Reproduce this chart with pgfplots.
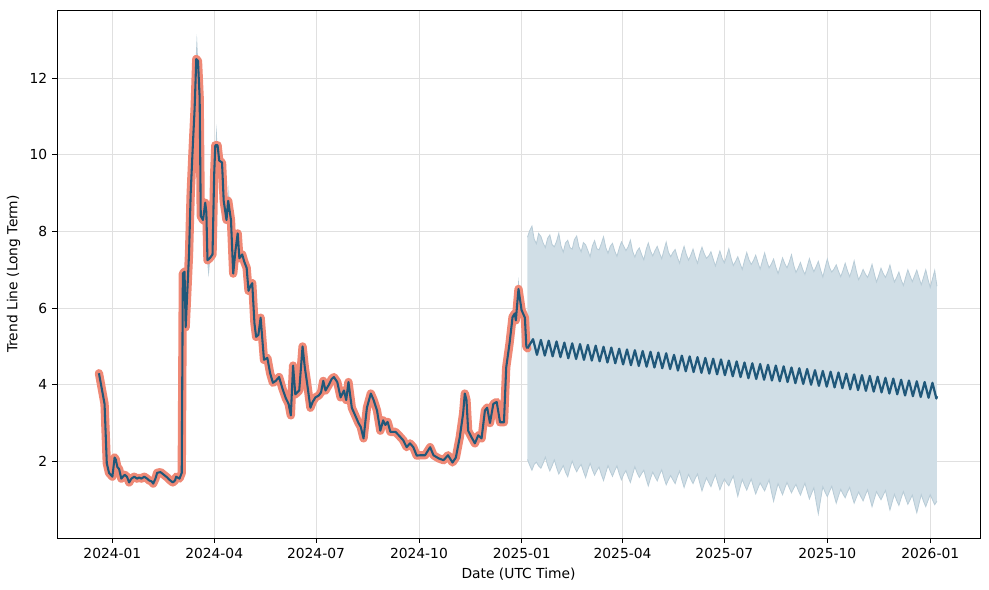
\documentclass[border=0pt]{standalone}
\usepackage{pgfplots}
\pgfplotsset{compat=1.18}
\usepackage{pgfplotstable}
\usepgfplotslibrary{fillbetween}
\usepackage{fontspec}
\setmainfont{DejaVu Sans}

\definecolor{salmon}{RGB}{239,137,118}
\definecolor{trend}{RGB}{32,88,122}
\definecolor{bandfill}{RGB}{208,222,230}
\definecolor{bandedge}{RGB}{184,204,215}

% days since 2024-01-01
\pgfplotstableread{
d v
-12 4.3
-7 3.5
-5 1.95
-3 1.7
0 1.6
2 2.1
3 2.05
4.5 1.85
6 1.8
8 1.55
11 1.65
13 1.6
15 1.45
17 1.55
19.5 1.6
22 1.55
24 1.58
26 1.55
28.5 1.6
31 1.55
33 1.5
35 1.48
36.5 1.42
38.5 1.55
40 1.7
43 1.72
46 1.65
49 1.58
51 1.52
54 1.45
56 1.5
57 1.6
60 1.55
62 1.7
63 6.9
64.5 6.95
65.5 5.5
68.5 7.4
70 9.0
72 10.3
73.5 11.2
75 12.5
76.5 12.45
78 11.5
79 8.4
81 8.3
83 8.75
84 8.5
85 7.25
87 7.3
89.5 7.4
91 9.5
92 10.25
94 10.25
95.5 9.85
98 9.8
99.5 8.8
100.5 8.6
102 8.3
103.5 8.8
106 8.3
108 6.9
110 7.5
112 7.95
113.5 7.3
116 7.4
118 7.2
120 7.05
121.7 6.45
123 6.55
125 6.65
127 5.6
128.5 5.25
130.5 5.3
132.5 5.75
134 5.2
135.5 4.65
138.5 4.7
141 4.3
143.5 4.05
146 4.1
149 4.2
152 3.9
155 3.65
157.5 3.5
159.5 3.2
161.5 4.5
163.5 3.75
167 3.85
170 5.0
172 4.45
174 4.05
177 3.4
179 3.55
181.5 3.67
184.5 3.72
186.5 3.8
188.5 4.1
190.5 3.85
193.5 4.0
196 4.15
198 4.2
201 4.07
204 3.67
207 3.85
209 3.6
211 4.07
214 3.4
217 3.2
220 3.0
222 2.9
224.5 2.6
227.5 3.4
231 3.77
233.5 3.6
236.5 3.33
239.5 2.8
242 3.07
244 2.95
246 3.03
248.5 2.77
253 2.77
256 2.68
260 2.55
263 2.37
266 2.47
269 2.37
272 2.15
275 2.16
279.5 2.16
284 2.37
287 2.16
291.5 2.08
296 2.03
300 2.16
304 1.97
307 2.1
310.5 2.63
313.5 3.25
315 3.77
316.5 3.6
318 2.8
321 2.63
324 2.47
327 2.68
330 2.6
333 3.33
335 3.4
337.5 3.0
340.5 3.5
343.5 3.55
346.5 3.02
350 3.02
352 4.45
355 5.08
357.7 5.77
359.7 5.86
360.6 5.68
363 6.5
365.7 5.95
368.7 5.75
370 5.0
371 4.95
}\histdata

\pgfplotstableread{
d v
371 4.95
376 5.19
379.5 4.78
383 5.17
386.5 4.76
390 5.15
393.5 4.74
397 5.13
400.5 4.72
404 5.10
407.5 4.69
411 5.08
414.5 4.67
418 5.06
421.5 4.65
425 5.04
428.5 4.63
432 5.02
435.5 4.61
439 4.99
442.5 4.58
446 4.97
449.5 4.56
453 4.94
456.5 4.53
460 4.92
463.5 4.51
467 4.90
470.5 4.49
474 4.88
477.5 4.47
481 4.86
484.5 4.45
488 4.84
491.5 4.43
495 4.82
498.5 4.41
502 4.78
505.5 4.37
509 4.76
512.5 4.35
516 4.74
519.5 4.33
523 4.72
526.5 4.31
530 4.70
533.5 4.29
537 4.68
540.5 4.27
544 4.66
547.5 4.25
551 4.63
554.5 4.22
558 4.61
561.5 4.20
565 4.58
568.5 4.17
572 4.56
575.5 4.15
579 4.54
582.5 4.13
586 4.52
589.5 4.11
593 4.50
596.5 4.09
600 4.48
603.5 4.07
607 4.45
610.5 4.04
614 4.43
617.5 4.02
621 4.41
624.5 4.00
628 4.38
631.5 3.97
635 4.36
638.5 3.95
642 4.34
645.5 3.93
649 4.32
652.5 3.91
656 4.29
659.5 3.88
663 4.27
666.5 3.86
670 4.25
673.5 3.84
677 4.23
680.5 3.82
684 4.21
687.5 3.80
691 4.18
694.5 3.77
698 4.16
701.5 3.75
705 4.13
708.5 3.72
712 4.11
715.5 3.70
719 4.09
722.5 3.68
726 4.07
729.5 3.66
733 4.05
736.5 3.64
737 3.70
}\fcdata

\pgfplotstableread{
d v
371 7.85
373 8.02
375 8.14
377 7.80
379 7.68
381 7.95
383 7.87
385 7.70
387 7.58
389 7.82
391 7.91
393 7.66
395 7.60
397 7.74
399 7.95
401 7.62
403 7.46
405 7.70
407 7.77
409 7.58
411 7.54
413 7.79
415 7.88
417 7.60
419 7.47
421 7.71
423 7.65
425 7.50
427 7.34
429 7.62
431 7.76
433 7.55
435 7.52
437 7.68
439 7.86
441 7.58
443 7.43
445 7.61
447 7.69
449 7.49
451 7.35
453 7.56
455 7.73
457 7.62
459 7.50
461 7.60
463 7.77
465 7.48
467 7.33
469 7.49
471 7.57
473 7.40
475 7.26
477 7.52
479 7.70
481 7.49
483 7.36
485 7.50
487 7.61
489 7.44
491 7.29
493 7.51
495 7.72
497 7.46
499 7.34
501 7.45
503 7.53
505 7.33
507 7.17
509 7.42
511 7.61
513 7.40
515 7.25
517 7.38
519 7.54
521 7.33
523 7.17
525 7.41
527 7.59
529 7.42
531 7.30
533 7.36
535 7.47
537 7.28
539 7.10
541 7.30
543 7.49
545 7.30
547 7.18
549 7.35
551 7.55
553 7.30
555 7.11
557 7.22
559 7.34
561 7.17
563 7.01
565 7.24
567 7.45
569 7.26
571 7.14
573 7.24
575 7.38
577 7.19
579 7.02
581 7.23
583 7.44
585 7.22
587 7.05
589 7.15
591 7.28
593 7.07
595 6.90
597 7.10
599 7.31
601 7.16
603 7.05
605 7.20
607 7.39
609 7.12
611 6.93
613 7.05
615 7.19
617 7.01
619 6.88
621 7.08
623 7.29
625 7.10
627 6.95
629 7.08
631 7.22
633 7.00
635 6.81
637 7.05
639 7.28
641 7.06
643 6.94
645 7.02
647 7.13
649 6.96
651 6.82
653 6.98
655 7.17
657 6.98
659 6.82
661 7.00
663 7.23
665 6.96
667 6.74
669 6.86
671 7.01
673 6.89
675 6.80
677 6.95
679 7.14
681 6.90
683 6.68
685 6.85
687 7.04
689 6.90
691 6.80
693 6.94
695 7.12
697 6.88
699 6.68
701 6.80
703 6.94
705 6.74
707 6.59
709 6.80
711 7.00
713 6.84
715 6.69
717 6.84
719 6.99
721 6.79
723 6.61
725 6.80
727 7.00
729 6.75
731 6.54
733 6.76
735 6.98
737 6.57
}\bandup

\pgfplotstableread{
d v
371 2.05
373 1.90
375 1.77
377 1.92
379 1.98
381 1.88
383 1.82
385 1.95
387 2.11
389 1.90
391 1.75
393 1.88
395 2.04
397 1.84
399 1.67
401 1.78
403 1.89
405 1.72
407 1.60
409 1.82
411 2.01
413 1.85
415 1.73
417 1.84
419 1.92
421 1.74
423 1.58
425 1.78
427 1.95
429 1.78
431 1.64
433 1.76
435 1.85
437 1.66
439 1.50
441 1.70
443 1.89
445 1.74
447 1.61
449 1.76
451 1.88
453 1.68
455 1.52
457 1.66
459 1.76
461 1.59
463 1.45
465 1.66
467 1.86
469 1.70
471 1.58
473 1.68
475 1.77
477 1.55
479 1.36
481 1.56
483 1.72
485 1.60
487 1.49
489 1.65
491 1.78
493 1.57
495 1.39
497 1.52
499 1.63
501 1.52
503 1.42
505 1.60
507 1.75
509 1.52
511 1.32
513 1.50
515 1.66
517 1.53
519 1.42
521 1.56
523 1.67
525 1.44
527 1.23
529 1.41
531 1.57
533 1.45
535 1.34
537 1.50
539 1.65
541 1.45
543 1.26
545 1.41
547 1.54
549 1.44
551 1.36
553 1.50
555 1.62
557 1.34
559 1.09
561 1.32
563 1.53
565 1.38
567 1.25
569 1.40
571 1.54
573 1.34
575 1.15
577 1.30
579 1.44
581 1.33
583 1.23
585 1.38
587 1.52
589 1.22
591 0.96
593 1.20
595 1.42
597 1.27
599 1.13
601 1.30
603 1.45
605 1.31
607 1.18
609 1.30
611 1.40
613 1.25
615 1.12
617 1.28
619 1.43
621 1.22
623 1.02
625 1.17
627 1.31
629 0.95
631 0.63
633 1.00
635 1.34
637 1.20
639 1.08
641 1.22
643 1.35
645 1.12
647 0.91
649 1.10
651 1.27
653 1.15
655 1.05
657 1.20
659 1.32
661 1.10
663 0.91
665 1.06
667 1.20
669 1.08
671 0.97
673 1.12
675 1.26
677 1.04
679 0.82
681 1.02
683 1.21
685 1.10
687 1.00
689 1.12
691 1.24
693 0.98
695 0.73
697 0.94
699 1.14
701 0.98
703 0.85
705 1.04
707 1.21
709 1.04
711 0.88
713 1.00
715 1.12
717 0.88
719 0.66
721 0.90
723 1.13
725 0.96
727 0.82
729 0.98
731 1.13
733 1.00
735 0.87
737 0.96
}\bandlo

\begin{document}
\begin{tikzpicture}
\begin{axis}[
    scale only axis,
    width=9.23in, height=5.28in,
    xmin=-49.5, xmax=775.5,
    ymin=0, ymax=13.78,
    xtick={0,91,182,274,366,456,547,639,731},
    xticklabels={2024-01,2024-04,2024-07,2024-10,2025-01,2025-04,2025-07,2025-10,2026-01},
    ytick={2,4,6,8,10,12},
    /pgf/number format/assume math mode=true,
    tick label style={font=\fontsize{10}{12}\selectfont},
    label style={font=\fontsize{10}{12}\selectfont},
    xlabel={Date (UTC Time)},
    ylabel={Trend Line (Long Term)},
    xtick pos=bottom, ytick pos=left,
    tick align=outside,
    major tick length=3.5pt,
    every tick/.style={black, line width=0.6pt},
    axis line style={line width=0.6pt},
    grid=major,
    major grid style={black!12, line width=0.6pt},
]
% forecast uncertainty band
\addplot[name path=up, draw=bandedge, line width=0.6pt] table[x=d, y=v] {\bandup};
\addplot[name path=lo, draw=bandedge, line width=0.6pt] table[x=d, y=v] {\bandlo};
\addplot[fill=bandfill, draw=none] fill between[of=up and lo];
% small band spikes visible around the history
\addplot[fill=bandedge, draw=none] coordinates {(74.3,12.4) (75.5,13.15) (76.7,12.4) (74.3,12.4)};
\addplot[fill=bandedge, draw=none] coordinates {(92,10.1) (93,10.8) (94,10.1) (92,10.1)};
\addplot[fill=bandedge, draw=none] coordinates {(103,8.6) (104,9.2) (105,8.6) (103,8.6)};
\addplot[fill=bandedge, draw=none] coordinates {(362,6.4) (363,6.8) (364,6.4) (362,6.4)};
\addplot[fill=bandedge, draw=none] coordinates {(84.5,7.3) (86,6.8) (87.5,7.3) (84.5,7.3)};
% actual values
\addplot[salmon, line width=6pt, line join=round, line cap=round] table[x=d, y=v] {\histdata};
% fitted trend line
\addplot[trend, line width=1.5pt, line join=round] table[x=d, y=v] {\histdata};
\addplot[trend, line width=1.6pt, line join=round] table[x=d, y=v] {\fcdata};
\end{axis}
\pgfresetboundingbox
\path (-0.57in,-0.52in) rectangle (9.32in,5.38in);
\end{tikzpicture}
\end{document}
